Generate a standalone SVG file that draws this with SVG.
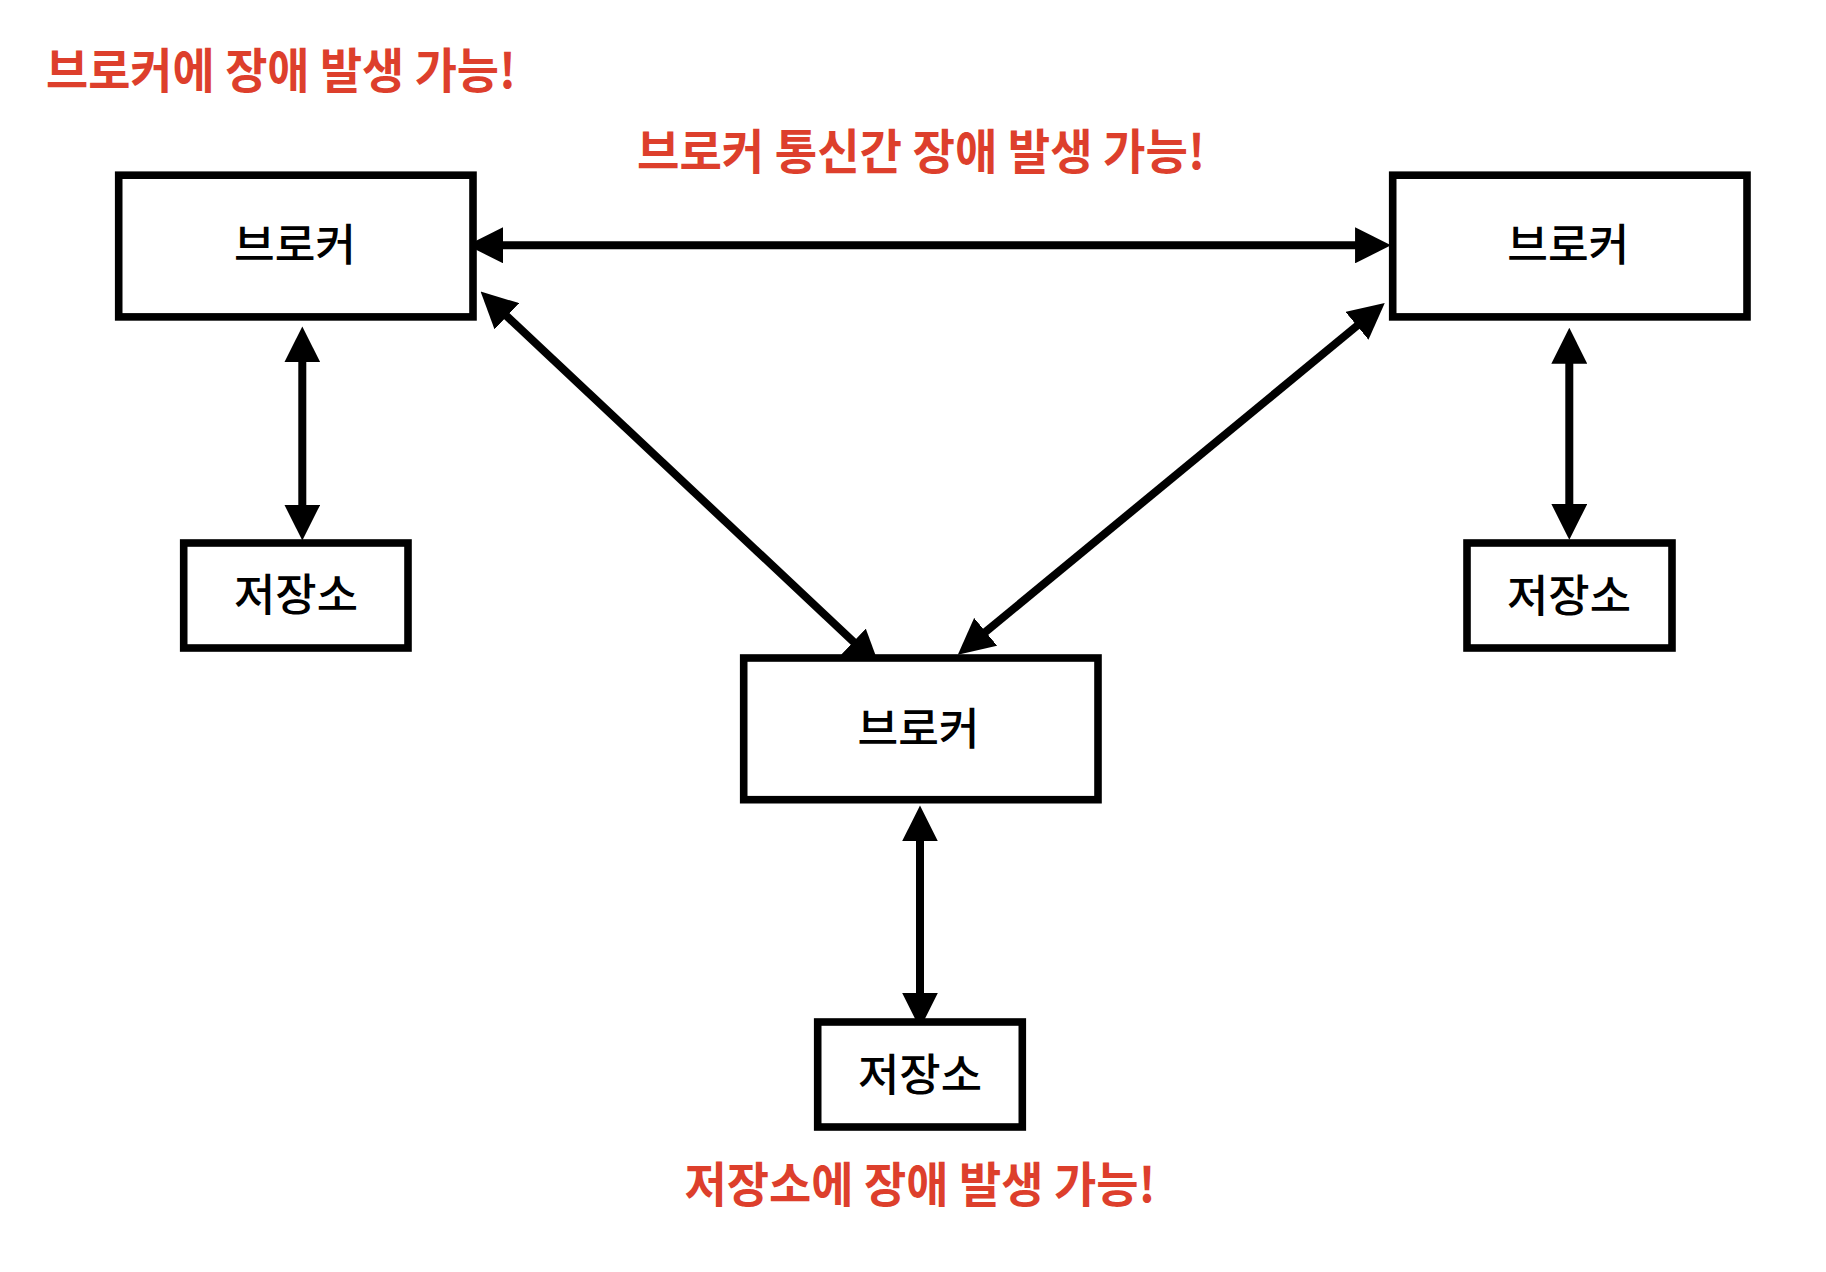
<svg xmlns="http://www.w3.org/2000/svg" width="1826" height="1272" viewBox="0 0 1826 1272">
  <style>
    .box { fill: #ffffff; stroke: #000000; stroke-width: 7.6; }
    .lbl { font-family: "Noto Sans CJK KR", "Noto Sans", sans-serif; font-size: 44px; font-weight: 500; fill: #000000; text-anchor: middle; }
    .warn { font-family: "Noto Sans CJK KR", "Noto Sans", sans-serif; font-size: 48px; font-weight: 700; fill: #DD3F2C; }
    .conn { fill: none; stroke: #000000; stroke-width: 8; marker-start: url(#arrow); marker-end: url(#arrow); }
  </style>
  <defs>
    <marker id="arrow" markerUnits="userSpaceOnUse" markerWidth="36" markerHeight="36" viewBox="0 0 35 35" refX="15" refY="17.5" orient="auto-start-reverse">
      <path d="M0,0 L35,17.5 L0,35 Z" fill="#000000"/>
    </marker>
  </defs>
  <rect width="1826" height="1272" fill="#ffffff"/>

  <g id="connectors">
    <line class="conn" x1="487.7" y1="245.3" x2="1370.5" y2="245.3"/>
    <line class="conn" x1="302.3" y1="347" x2="302.3" y2="520"/>
    <line class="conn" x1="1569.3" y1="348.3" x2="1569.3" y2="519.3"/>
    <line class="conn" x1="920" y1="826" x2="920" y2="1008"/>
    <line class="conn" x1="495.6" y1="305.7" x2="864.7" y2="652.3"/>
    <line class="conn" x1="1368.9" y1="316" x2="973.7" y2="641.6"/>
  </g>

  <g id="broker-left">
    <rect class="box" x="118.7" y="175.2" width="354.3" height="141.7"/>
    <text class="lbl" x="295" y="261" textLength="122" lengthAdjust="spacingAndGlyphs">브로커</text>
  </g>
  <g id="broker-right">
    <rect class="box" x="1392.7" y="175.2" width="354.3" height="141.7"/>
    <text class="lbl" x="1568.3" y="261" textLength="122" lengthAdjust="spacingAndGlyphs">브로커</text>
  </g>
  <g id="broker-middle">
    <rect class="box" x="743.7" y="658" width="354.3" height="141.7"/>
    <text class="lbl" x="918.5" y="744.5" textLength="122" lengthAdjust="spacingAndGlyphs">브로커</text>
  </g>
  <g id="storage-left">
    <rect class="box" x="183.7" y="543" width="224.3" height="105"/>
    <text class="lbl" x="296" y="611" textLength="124" lengthAdjust="spacingAndGlyphs">저장소</text>
  </g>
  <g id="storage-right">
    <rect class="box" x="1467" y="543" width="205" height="105"/>
    <text class="lbl" x="1569" y="611.5" textLength="124" lengthAdjust="spacingAndGlyphs">저장소</text>
  </g>
  <g id="storage-middle">
    <rect class="box" x="817.7" y="1022" width="204.6" height="105"/>
    <text class="lbl" x="920" y="1090.5" textLength="124" lengthAdjust="spacingAndGlyphs">저장소</text>
  </g>

  <g id="warnings">
    <text class="warn" x="46" y="88" textLength="470" lengthAdjust="spacingAndGlyphs">브로커에 장애 발생 가능!</text>
    <text class="warn" x="637" y="168.5" textLength="568" lengthAdjust="spacingAndGlyphs">브로커 통신간 장애 발생 가능!</text>
    <text class="warn" x="684.5" y="1202" textLength="471" lengthAdjust="spacingAndGlyphs">저장소에 장애 발생 가능!</text>
  </g>
</svg>
